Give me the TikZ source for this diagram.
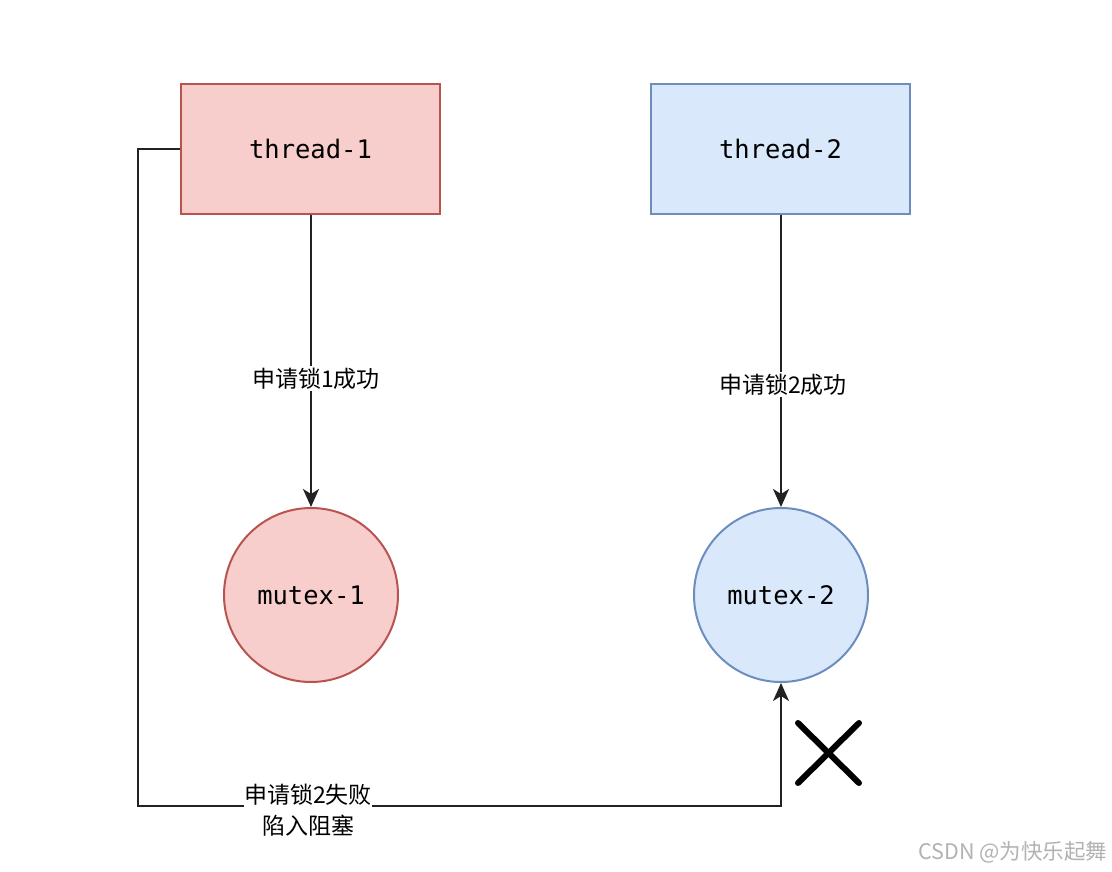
\documentclass[tikz,border=0pt]{standalone}
\usepackage{fontspec}
\setmonofont{DejaVu Sans Mono}
\newfontfamily\cjk{Noto Sans CJK SC}
\usetikzlibrary{arrows.meta}

\definecolor{redfill}{HTML}{F8CECC}
\definecolor{redline}{HTML}{B85450}
\definecolor{bluefill}{HTML}{DAE8FC}
\definecolor{blueline}{HTML}{6C8EBF}
\definecolor{wire}{HTML}{222222}

\tikzset{
    threadbox/.style={draw, line width=2pt, minimum width=259pt, minimum height=130pt,
        font=\ttfamily\fontsize{25.5}{30}\selectfont},
    mutexnode/.style={circle, draw, line width=2pt, minimum size=174pt, inner sep=0pt,
        font=\ttfamily\fontsize{25.5}{30}\selectfont},
    lockarrow/.style={draw=wire, line width=2.2pt, -{Stealth[length=18pt,width=16pt,inset=5pt]}},
    locklabel/.style={fill=white, inner sep=2pt, font=\cjk\fontsize{23}{31}\selectfont, align=center}
}

\begin{document}
\begin{tikzpicture}[x=1pt,y=-1pt]
            \useasboundingbox (0,0) rectangle (1112,872);

            % Threads
            \node[threadbox, fill=redfill, draw=redline] (t1) at (310.5,149) {thread-1};
            \node[threadbox, fill=bluefill, draw=blueline] (t2) at (780.5,149) {thread-2};

            % Mutexes
            \node[mutexnode, fill=redfill, draw=redline] (m1) at (311,595) {mutex-1};
            \node[mutexnode, fill=bluefill, draw=blueline] (m2) at (781,595) {mutex-2};

            % Successful locks
            \draw[lockarrow] (m1.north |- t1.south) -- (m1)
                node[locklabel, pos=0.56, xshift=5pt] (ok1) {申请锁1成功};
            \draw[lockarrow] (m2.north |- t2.south) -- (m2)
                node[locklabel, pos=0.58, xshift=2pt] (ok2) {申请锁2成功};

            % Blocked request
            \coordinate (bend) at (138,806);
            \draw[lockarrow] (t1.west) -| (bend) -| (m2.south);
            \node[locklabel, inner sep=0pt] (fail) at (308,810) {申请锁2失败\\陷入阻塞};

            % Cross
            \draw[line width=6pt, line cap=round] (798,723) -- (859,783);
            \draw[line width=6pt, line cap=round] (859,723) -- (798,783);

            % Watermark
            \node[text=black!30, font=\cjk\fontsize{21.5}{26}\selectfont] (mark) at (1013,852) {CSDN @为快乐起舞};
\end{tikzpicture}
\end{document}
